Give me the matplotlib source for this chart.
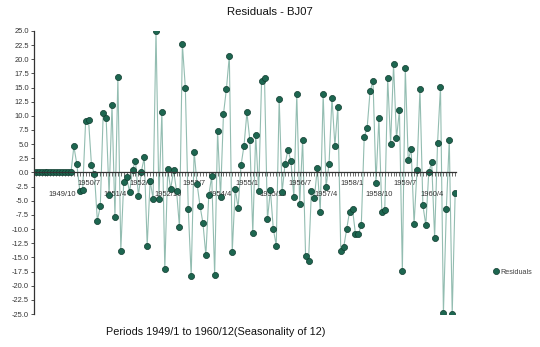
import matplotlib.pyplot as plt
import numpy as np

# residuos do modelo, 1949/1 a 1960/12 (13 primeiros perdidos na diferenciacao)
periodos = [f'{a}/{m}' for a in range(1949, 1961) for m in range(1, 13)]
residuos = [0.0] * 13 + [
    4.6, 1.5, -3.2, -3.1, 9.0, 9.2, 1.3, -0.2, -8.5, -6.0,
    10.5, 9.6, -4.0, 11.9, -7.8, 16.8, -13.8, -1.7, -0.8, -3.5,
    0.5, 2.0, -4.1, 0.15, 2.65, -12.9, -1.45, -4.7, 25.0, -4.7,
    10.65, -17.1, 0.6, -2.95, 0.35, -3.25, -9.65, 22.6, 15.0, -6.45,
    -18.3, 3.7, -2.0, -5.9, -8.9, -14.6, -4.0, -0.65, -18.1, 7.3,
    -4.3, 10.3, 14.7, 20.6, -14.0, -3.0, -6.2, 1.3, 4.7, 10.6,
    5.7, -10.7, 6.7, -3.3, 16.2, 16.6, -8.3, -3.1, -10.0, -12.9,
    13.0, -3.5, 1.5, 4.0, 2.0, -4.3, 13.8, -5.6, 5.8, -14.7,
    -15.7, -3.2, -4.5, 0.8, -6.9, 13.9, -2.5, 1.5, 13.2, 4.7,
    11.6, -13.8, -13.2, -10.0, -6.9, -6.5, -10.8, -10.9, -9.3, 6.3,
    7.9, 14.4, 16.1, -1.8, 9.6, -6.9, -6.6, 16.6, 5.1, 19.1,
    6.0, 11.0, -17.4, 18.5, 2.2, 4.1, -9.1, 0.5, 14.8, -5.8,
    -9.3, 0.0, 1.8, -11.5, 5.2, 15.1, -24.9, -6.4, 5.8, -25.0,
    -3.7,
]
yticks = np.arange(-25, 25.1, 2.5)

plt.rcParams['font.family'] = ['Liberation Sans', 'DejaVu Sans']

fig = plt.figure(figsize=(5.4, 3.47), dpi=100)
ax = fig.add_axes([0.0635, 0.095, 0.781, 0.816])

x = np.arange(len(residuos))
ax.plot(x, residuos, color='#93bdb1', linewidth=0.8, zorder=1)
ax.plot(x, residuos, linestyle='none', marker='o', markersize=4.4,
        markerfacecolor='#1d6650', markeredgecolor='#0e3b2e',
        markeredgewidth=0.5, label='Residuals', zorder=2)

ax.set_xlim(-0.5, 143.3)
ax.set_ylim(-25, 25)

# eixos: so a esquerda e a linha do zero
for s in ['top', 'right']:
    ax.spines[s].set_visible(False)
ax.spines['bottom'].set_position(('data', 0))
ax.spines['bottom'].set_color('#333333')
ax.spines['bottom'].set_linewidth(0.9)
ax.spines['left'].set_color('#333333')
ax.spines['left'].set_linewidth(0.9)

ax.set_yticks(yticks)
ax.set_yticklabels([f'{v:.1f}' for v in yticks])
ax.tick_params(axis='y', length=2.5, width=0.6, labelsize=5.4,
               colors='#333333', pad=1.5)

# ticks em todos os periodos, rotulos a cada 9 em duas linhas alternadas
rotulos = [periodos[i] if (i % 9 == 0 and i > 0) else '' for i in x]
ax.set_xticks(x)
ax.set_xticklabels(rotulos)
ax.tick_params(axis='x', length=3.2, width=0.5, labelsize=5.4,
               colors='#333333', pad=2.0)
for i, tick in enumerate(ax.xaxis.get_major_ticks()):
    if i % 18 == 9:
        tick.set_pad(10.0)

fig.text(0.5, 0.965, 'Residuals - BJ07', ha='center', va='center',
         fontsize=8.2, color='#111111')
fig.text(0.4, 0.043, 'Periods 1949/1 to 1960/12(Seasonality of 12)',
         ha='center', va='center', fontsize=7.8, color='#111111')

fig.legend(loc='center left', bbox_to_anchor=(0.905, 0.216), frameon=False,
           fontsize=5.2, handletextpad=0.1, handlelength=1.0,
           borderpad=0, labelcolor='#444444')

fig.savefig('out.png', dpi=100)
